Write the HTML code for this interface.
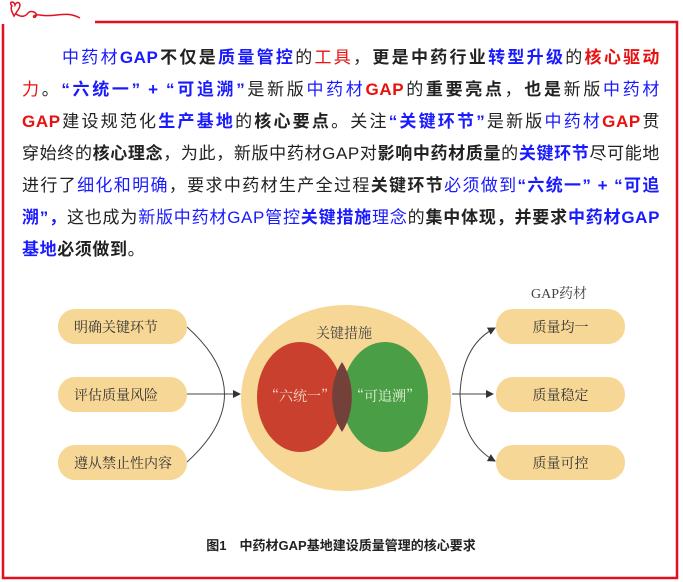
<!DOCTYPE html>
<html><head><meta charset="utf-8"><style>
body{margin:0;width:683px;height:582px;background:#fff;position:relative;overflow:hidden;font-family:"Liberation Sans","Noto Sans CJK SC",sans-serif;}
.p{position:absolute;left:22px;top:42px;width:638px;font-size:17px;line-height:32px;color:#222;letter-spacing:0.6px;}
.p div{text-align:justify;text-align-last:justify;}
.p div.l{text-align-last:left;}
.b{color:#1a1aff}.r{color:#e81010}.k{font-weight:bold}
.bx{position:absolute;width:129px;height:35px;border-radius:17px;background:#f7d796;font-size:14px;color:#333;display:flex;align-items:center;padding-left:16px;box-sizing:border-box;font-family:"Noto Serif CJK SC",serif;}
.rb{padding-left:0;justify-content:center;}
</style></head><body>
<svg style="position:absolute;left:0;top:0" width="683" height="582">
<path d="M3 24 V578 H677 V22 H95" fill="none" stroke="#e01020" stroke-width="2.5"/>
<path d="M12 6 C8 2,14 0,15 5 C17 0,23 3,18 10 L14 16 C12 12,10 8,12 6 Z M16 14 C22 18,26 16,28 13 C30 10,38 12,36 16 C34 20,30 14,40 15 C55 18,65 10,80 18" fill="none" stroke="#e01020" stroke-width="1.5"/>
<ellipse cx="346" cy="398" rx="105" ry="93" fill="#f7d796"/>
<ellipse cx="300" cy="397" rx="43" ry="55" fill="#c9402e"/>
<ellipse cx="385" cy="397" rx="43" ry="55" fill="#4a9e46"/>
<path d="M342 362 A43 55 0 0 1 342 432 A43 55 0 0 1 342 362Z" fill="#74413a"/>
<defs><marker id="a" markerWidth="8" markerHeight="8" refX="7" refY="4" orient="auto"><path d="M0 0 L8 4 L0 8 Z" fill="#333"/></marker></defs>
<g fill="none" stroke="#444" stroke-width="1">
<path d="M187 327 Q262 394 187 462"/>
<path d="M187 394 H240" marker-end="url(#a)"/>
<path d="M452 394 H493" marker-end="url(#a)"/>
<path d="M460 394 Q462 345 495 328" marker-end="url(#a)"/>
<path d="M460 394 Q462 443 495 461" marker-end="url(#a)"/>
</g>
<text x="300" y="401" font-size="14" fill="#f3d8c8" text-anchor="middle" font-family="Noto Serif CJK SC,serif">“六统一”</text>
<text x="385" y="401" font-size="14" fill="#e6f2d8" text-anchor="middle" font-family="Noto Serif CJK SC,serif">“可追溯”</text>
<text x="344" y="338" font-size="14" fill="#444" text-anchor="middle" font-family="Noto Serif CJK SC,serif">关键措施</text>
<text x="559" y="298" font-size="14" fill="#444" text-anchor="middle" font-family="Liberation Serif,Noto Serif CJK SC,serif">GAP药材</text>
<text x="341" y="550" font-size="13" font-weight="bold" fill="#222" text-anchor="middle">图1　中药材GAP基地建设质量管理的核心要求</text>
</svg>
<div class="p">
<div style="text-indent:40px"><span class="b">中药材<b>GAP</b></span><span class="k">不仅是</span><span class="b k">质量管控</span>的<span class="r">工具</span>，<span class="k">更是中药行业</span><span class="b k">转型升级</span>的<span class="r k">核心驱动</span></div>
<div><span class="r">力</span>。<span class="b k">“六统一” + “可追溯”</span>是新版<span class="b">中药材</span><span class="r k">GAP</span>的<span class="k">重要亮点</span>，<span class="k">也是</span>新版<span class="b">中药材</span></div>
<div><span class="r k">GAP</span>建设规范化<span class="b k">生产基地</span>的<span class="k">核心要点</span>。关注<span class="b k">“关键环节”</span>是新版<span class="b">中药材</span><span class="r k">GAP</span>贯</div>
<div>穿始终的<span class="k">核心理念</span>，为此，新版中药材GAP对<span class="k">影响中药材质量</span>的<span class="b k">关键环节</span>尽可能地</div>
<div>进行了<span class="b">细化和明确</span>，要求中药材生产全过程<span class="k">关键环节</span><span class="b">必须做到</span><span class="b k">“六统一” + “可追</span></div>
<div><span class="b k">溯”，</span>这也成为<span class="b">新版中药材GAP管控</span><span class="b k">关键措施</span><span class="b">理念</span>的<span class="k">集中体现，并要求</span><span class="b k">中药材GAP</span></div>
<div class="l"><span class="b k">基地</span><span class="k">必须做到</span>。</div>
</div>
<div class="bx" style="left:58px;top:309px">明确关键环节</div>
<div class="bx" style="left:58px;top:377px">评估质量风险</div>
<div class="bx" style="left:58px;top:445px">遵从禁止性内容</div>
<div class="bx rb" style="left:496px;top:309px">质量均一</div>
<div class="bx rb" style="left:496px;top:377px">质量稳定</div>
<div class="bx rb" style="left:496px;top:445px">质量可控</div>
</body></html>
